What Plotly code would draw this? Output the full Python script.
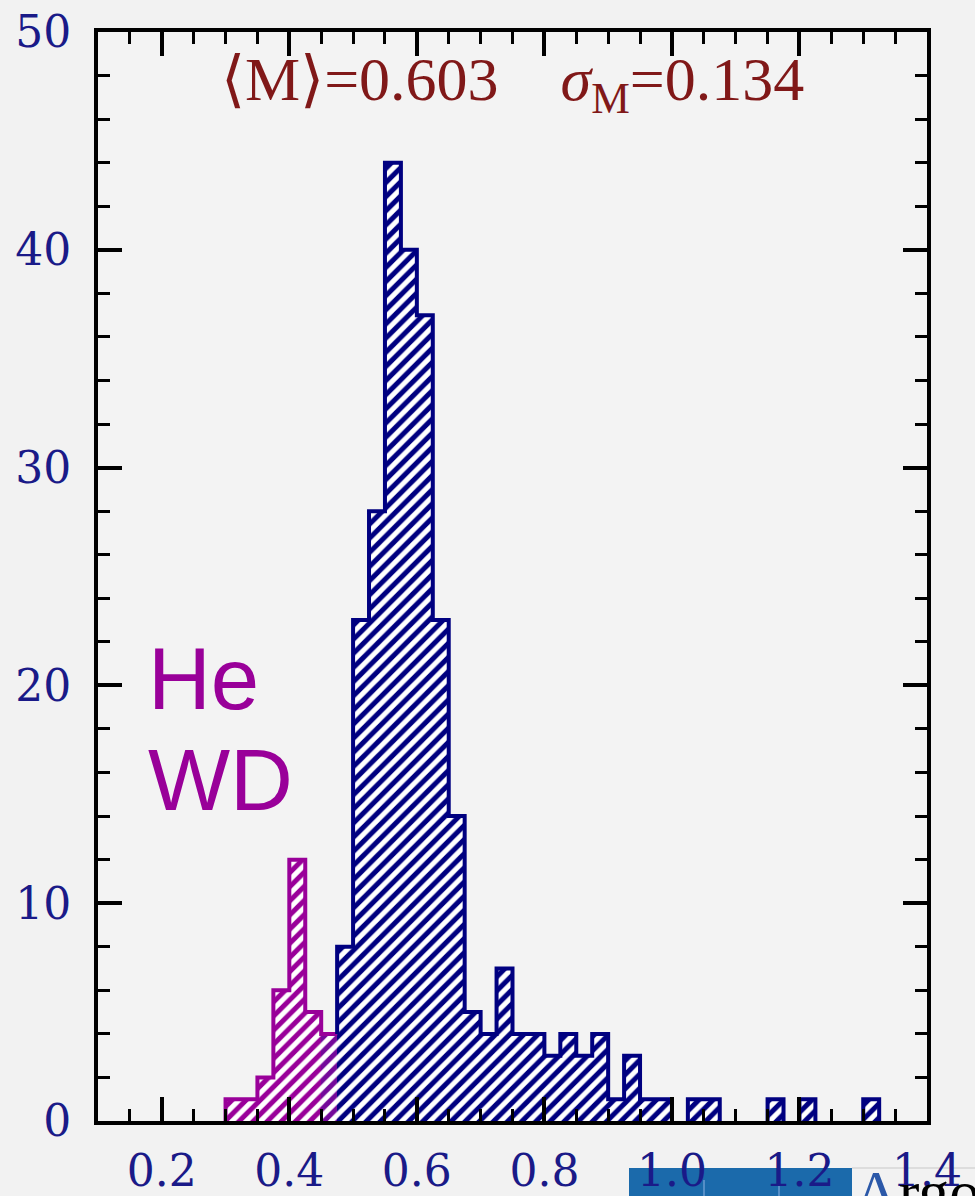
import plotly.graph_objects as go

# ---- data ----
bin_width = 0.025
bin_start = 0.300
counts = [1, 1, 2, 6, 12, 5, 4,          # 0.300 - 0.475  (He WD part)
          8, 23, 28, 44, 40, 37, 23, 14,  # 0.475 - 0.675
          5, 4, 7, 4, 4, 3, 4, 3, 4, 1,   # 0.675 - 0.925
          3, 1, 1, 0, 1, 1, 0, 0, 0, 1,   # 0.925 - 1.175
          0, 1, 0, 0, 0, 1]               # 1.175 - 1.325
n_he = 7  # first bins drawn in magenta (He white dwarfs)
bin_colors = ["#990099"] * 6 + ["#74099a"] + ["#000080"] * (len(counts) - 7)

x_ticks = [0.2, 0.4, 0.6, 0.8, 1.0, 1.2, 1.4]
x_tick_text = ["0.2", "0.4", "0.6", "0.8", "1.0", "1.2", "1.4"]
y_ticks = [0, 10, 20, 30, 40, 50]

mean_text = "\u27e8M\u27e9=0.603&#160;&#160;&#160;&#160;<i>\u03c3</i><sub>M</sub>=0.134"

MAGENTA = "#990099"
NAVY = "#000080"

edges = [bin_start + i * bin_width for i in range(len(counts) + 1)]
centers = [(edges[i] + edges[i + 1]) / 2 for i in range(len(counts))]

fig = go.Figure()

# hatched bars (no outlines)
fig.add_trace(go.Bar(
    x=centers, y=counts, width=[bin_width] * len(counts),
    marker=dict(color="white", line=dict(width=0),
                pattern=dict(shape="/", fgcolor=bin_colors, bgcolor="white",
                             size=10, solidity=0.5, fillmode="replace")),
    showlegend=False, hoverinfo="skip"))


def outline(i0, i1):
    """step outline for bins i0..i1-1, broken at empty bins"""
    xs, ys = [], []
    run = []
    for i in range(i0, i1):
        if counts[i] > 0:
            run.append(i)
        if (counts[i] == 0 or i == i1 - 1) and run:
            a, b = run[0], run[-1]
            base = 0
            if a == i0 and i0 > 0:
                base = counts[i0 - 1] if counts[i0 - 1] < counts[a] else 0
            xs += [edges[a], edges[a]]
            ys += [base, counts[a]]
            for j in run[1:]:
                xs.append(edges[j]); ys.append(counts[j])
            end_y = 0
            if b == i1 - 1 and i1 < len(counts):
                end_y = counts[i1 - 1]
            xs.append(edges[b + 1]); ys.append(end_y)
            xs.append(None); ys.append(None)
            run = []
    return xs, ys


xm, ym = outline(0, n_he)
fig.add_trace(go.Scatter(x=xm, y=ym, mode="lines", line=dict(color=MAGENTA, width=4, shape="hv"),
                         showlegend=False, hoverinfo="skip", connectgaps=False))
xb, yb = outline(n_he, len(counts))
fig.add_trace(go.Scatter(x=xb, y=yb, mode="lines", line=dict(color=NAVY, width=4, shape="hv"),
                         showlegend=False, hoverinfo="skip", connectgaps=False))

tick_font = dict(family="DejaVu Serif", size=44, color="#1a1a88")

fig.update_xaxes(range=[0.1, 1.4], tickvals=x_ticks, ticktext=x_tick_text,
                 ticks="inside", ticklen=24, tickwidth=4, tickcolor="black",
                 showline=True, linewidth=4, linecolor="black", mirror="allticks",
                 showgrid=False, zeroline=False, tickfont=tick_font, ticklabelstandoff=8,
                 automargin=False,
                 minor=dict(dtick=0.05, tick0=0.1, ticks="inside", ticklen=12, tickwidth=3,
                            tickcolor="black", showgrid=False))
fig.update_yaxes(range=[0, 50], tickvals=y_ticks,
                 ticks="inside", ticklen=24, tickwidth=4, tickcolor="black",
                 showline=True, linewidth=4, linecolor="black", mirror="allticks",
                 showgrid=False, zeroline=False, tickfont=tick_font, ticklabelstandoff=14,
                 automargin=False,
                 minor=dict(dtick=2, tick0=0, ticks="inside", ticklen=12, tickwidth=3,
                            tickcolor="black", showgrid=False))

fig.add_annotation(x=0.5, y=0.953, xref="paper", yref="paper", text=mean_text,
                   showarrow=False, xanchor="center", yanchor="middle",
                   font=dict(family="Liberation Serif", size=62, color="#801818"))
fig.add_annotation(x=0.175, y=20.3, xref="x", yref="y", text="He", showarrow=False,
                   xanchor="left", yanchor="middle",
                   font=dict(family="Liberation Sans", size=87, color=MAGENTA))
fig.add_annotation(x=0.175, y=15.7, xref="x", yref="y", text="WD", showarrow=False,
                   xanchor="left", yanchor="middle",
                   font=dict(family="Liberation Sans", size=87, color=MAGENTA))

# overlaid screenshot artefact at the bottom right
H = 1196 - 32 - 75
W = 975 - 98 - 48


def px(xp):
    return (xp - 98) / W


def py(yp):
    return (1121 - yp) / H


fig.add_shape(type="rect", xref="paper", yref="paper", x0=px(629), x1=px(852),
              y0=py(1200), y1=py(1168),
              fillcolor="#1b6aab", line=dict(width=0), layer="below")
for xl in (704, 779):
    fig.add_shape(type="line", xref="paper", yref="paper", x0=px(xl), x1=px(xl),
                  y0=py(1200), y1=py(1180), line=dict(color="#6a9bd0", width=1.5), layer="below")
fig.add_shape(type="line", xref="paper", yref="paper", x0=px(852), x1=px(980),
              y0=py(1168), y1=py(1168),
              line=dict(color="#c8c8c8", width=1), layer="below")
fig.add_annotation(x=px(852), y=py(1156), xref="paper", yref="paper",
                   text="<span style='color:#2b58a8'>A</span>rgo", showarrow=False,
                   xanchor="left", yanchor="top",
                   font=dict(family="Liberation Serif", size=62, color="black"))

fig.update_layout(width=975, height=1196,
                  margin=dict(l=98, r=48, t=32, b=75, autoexpand=False),
                  paper_bgcolor="#f2f2f2", plot_bgcolor="#f3f3f3",
                  bargap=0, showlegend=False)

fig.write_html("out.html")
